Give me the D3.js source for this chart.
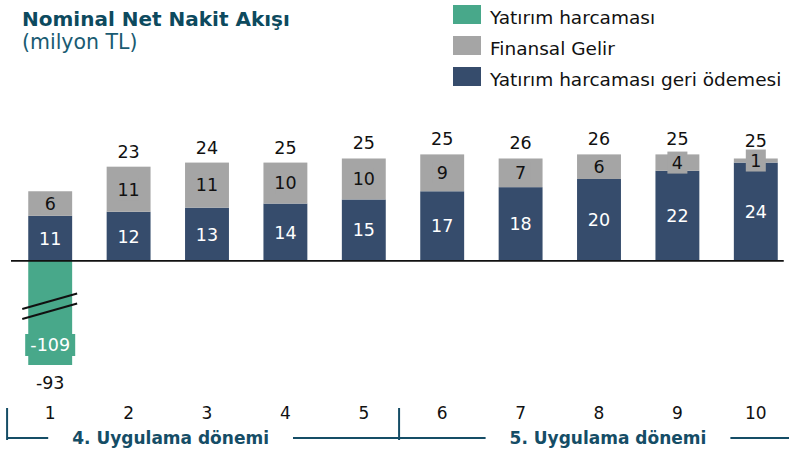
<!DOCTYPE html>
<html>
<head>
<meta charset="utf-8">
<script src="https://cdn.jsdelivr.net/npm/d3@7"></script>
<style>
  body { margin: 0; background: #fff; }
  text { font-family: "DejaVu Sans", Verdana, sans-serif; }
</style>
</head>
<body>
<div id="cashflow_chart"></div>
<script>
// Data
const periods = ["1", "2", "3", "4", "5", "6", "7", "8", "9", "10"];
const repayment = [11, 12, 13, 14, 15, 17, 18, 20, 22, 24];   // Yatırım harcaması geri ödemesi
const financeIncome = [6, 11, 11, 10, 10, 9, 7, 6, 4, 1];     // Finansal Gelir
const investment = [-109, 0, 0, 0, 0, 0, 0, 0, 0, 0];         // Yatırım harcaması
const totals = [-93, 23, 24, 25, 25, 25, 26, 26, 25, 25];
const phaseLabels = ["4. Uygulama dönemi", "5. Uygulama dönemi"];
const phaseFirstPeriod = ["1", "6"];
const legendLabels = ["Yatırım harcaması", "Finansal Gelir", "Yatırım harcaması geri ödemesi"];

// the negative bar is cut with a break, axis only shows down to this value
const breakFloor = -25.4;

const colors = { invest: "#48a88a", income: "#a5a5a5", repay: "#364c6c" };

const width = 789, height = 453;
const labelSize = 17.5;

const svg = d3.select("#cashflow_chart")
  .append("svg")
    .attr("width", width)
    .attr("height", height);

// scales
const x = d3.scaleBand()
  .domain(periods)
  .range([11, 795])
  .paddingInner(0.44)
  .paddingOuter(0.22);

const y = d3.scaleLinear()
  .domain([breakFloor, 30])
  .range([365, 138]);

const bw = x.bandwidth();

// title
svg.append("text")
  .attr("x", 22).attr("y", 26)
  .attr("font-size", 20).attr("font-weight", "bold")
  .attr("fill", "#0d4a5e")
  .text("Nominal Net Nakit Akışı");
svg.append("text")
  .attr("x", 22).attr("y", 49)
  .attr("font-size", 20.5)
  .attr("fill", "#1a5b72")
  .text("(milyon TL)");

// legend
const legend = svg.append("g")
  .selectAll("g")
  .data(legendLabels)
  .join("g")
    .attr("transform", (d, i) => `translate(453, ${5 + i * 31})`);
legend.append("rect")
  .attr("width", 28).attr("height", 19)
  .attr("fill", (d, i) => [colors.invest, colors.income, colors.repay][i]);
legend.append("text")
  .attr("x", 37).attr("y", 19)
  .attr("font-size", 18.5)
  .attr("fill", "#111")
  .text(d => d);

const rows = periods.map((p, i) => ({
  p: p, repay: repayment[i], income: financeIncome[i], invest: investment[i], total: totals[i]
}));

// stacked positive bars
const bars = svg.append("g")
  .selectAll("g")
  .data(rows)
  .join("g")
    .attr("transform", d => `translate(${x(d.p)}, 0)`);

bars.append("rect")
  .attr("y", d => y(d.repay))
  .attr("width", bw)
  .attr("height", d => y(0) - y(d.repay))
  .attr("fill", colors.repay);

bars.append("rect")
  .attr("y", d => y(d.repay + d.income))
  .attr("width", bw)
  .attr("height", d => y(d.repay) - y(d.repay + d.income))
  .attr("fill", colors.income);

// negative investment bar (broken)
const neg = bars.filter(d => d.invest < 0);
neg.append("rect")
  .attr("y", y(0))
  .attr("width", bw)
  .attr("height", d => y(Math.max(d.invest, breakFloor)) - y(0))
  .attr("fill", colors.invest);

// break marks
const breakY = y(breakFloor) - 56;
[0, 10].forEach(off => {
  neg.append("line")
    .attr("x1", -6).attr("x2", bw + 5)
    .attr("y1", breakY + off).attr("y2", breakY + off - 15.5)
    .attr("stroke", "#111").attr("stroke-width", 2);
});

// baseline
svg.append("line")
  .attr("x1", x.range()[0]).attr("x2", x(periods[periods.length - 1]) + bw + 6)
  .attr("y1", y(0)).attr("y2", y(0))
  .attr("stroke", "#111").attr("stroke-width", 1.6);

// value labels
bars.append("text")
  .attr("x", bw / 2)
  .attr("y", d => (y(0) + y(d.repay)) / 2)
  .attr("dy", "0.36em")
  .attr("text-anchor", "middle")
  .attr("font-size", labelSize)
  .attr("fill", "#fff")
  .text(d => d.repay);

// gray labels get a small box of the same colour (visible on thin segments)
const incomeMid = d => (y(d.repay) + y(d.repay + d.income)) / 2;
const incomeLab = bars.append("g")
  .attr("transform", d => `translate(${bw / 2}, ${incomeMid(d)})`);
incomeLab.append("rect")
  .attr("x", -10).attr("y", -11)
  .attr("width", 20).attr("height", 22)
  .attr("fill", colors.income);
incomeLab.append("text")
  .attr("dy", "0.36em")
  .attr("text-anchor", "middle")
  .attr("font-size", labelSize)
  .attr("fill", "#111")
  .text(d => d.income);

// investment label
const investLab = neg.append("g")
  .attr("transform", `translate(${bw / 2}, ${y(breakFloor) - 20})`);
investLab.append("rect")
  .attr("x", -25).attr("y", -11)
  .attr("width", 50).attr("height", 22)
  .attr("fill", colors.invest);
investLab.append("text")
  .attr("dy", "0.36em")
  .attr("text-anchor", "middle")
  .attr("font-size", labelSize)
  .attr("fill", "#fff")
  .text(d => d.invest);

// totals
bars.append("text")
  .attr("x", bw / 2)
  .attr("y", d => d.total >= 0
    ? Math.min(y(d.repay + d.income) - 9, incomeMid(d) - 14)
    : y(breakFloor) + 24)
  .attr("text-anchor", "middle")
  .attr("font-size", labelSize)
  .attr("fill", "#111")
  .text(d => d.total);

// period numbers
svg.append("g")
  .selectAll("text")
  .data(periods)
  .join("text")
    .attr("x", d => x(d) + bw / 2)
    .attr("y", 419)
    .attr("text-anchor", "middle")
    .attr("font-size", 17)
    .attr("fill", "#111")
    .text(d => d);

// implementation period brackets
const phaseColor = "#154d66";
const tickX = phaseFirstPeriod.map(p => x(p) + bw / 2 - x.step() * 0.55);
const textCenter = [x("2") + bw / 2 + 42, x("8") + bw / 2 + 9];
const lineY = 438;
const gap = 24;

tickX.forEach(tx => {
  svg.append("line")
    .attr("x1", tx).attr("x2", tx)
    .attr("y1", 408).attr("y2", 440)
    .attr("stroke", phaseColor).attr("stroke-width", 2);
});

phaseLabels.forEach((label, i) => {
  const t = svg.append("text")
    .attr("x", textCenter[i]).attr("y", 444)
    .attr("text-anchor", "middle")
    .attr("font-size", 17).attr("font-weight", "bold")
    .attr("fill", phaseColor)
    .text(label);
  const half = t.node().getComputedTextLength() / 2;
  const start = tickX[i];
  const end = i + 1 < tickX.length ? tickX[i + 1] : width;
  svg.append("line")
    .attr("x1", start).attr("x2", textCenter[i] - half - gap)
    .attr("y1", lineY).attr("y2", lineY)
    .attr("stroke", phaseColor).attr("stroke-width", 2);
  svg.append("line")
    .attr("x1", textCenter[i] + half + gap).attr("x2", end)
    .attr("y1", lineY).attr("y2", lineY)
    .attr("stroke", phaseColor).attr("stroke-width", 2);
});
</script>
</body>
</html>
